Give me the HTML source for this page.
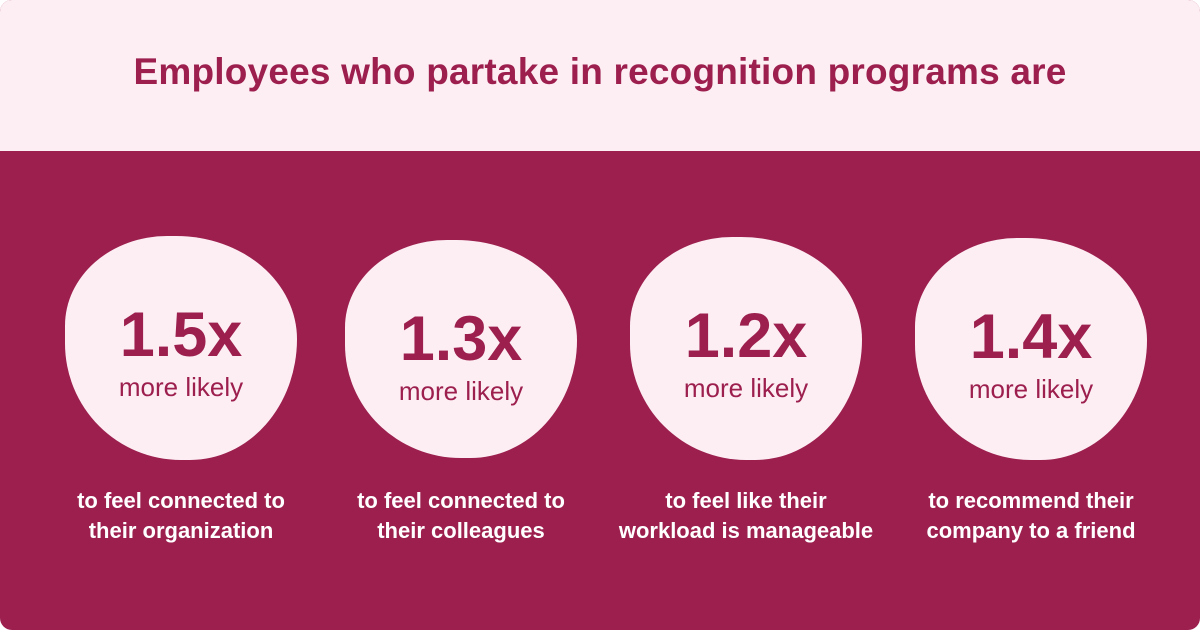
<!DOCTYPE html>
<html><head><style>
body{margin:0;width:1200px;height:630px;overflow:hidden;font-family:"Liberation Sans",sans-serif}
.wrap{position:relative;width:1200px;height:630px;background:#9c1f4e;border-radius:12px;overflow:hidden}
.top{position:absolute;left:0;top:0;width:1200px;height:151px;background:#fdeef3;text-align:center}
.top h1{margin:0;padding-top:51px;font-size:37px;color:#9c1f4e;font-weight:bold;letter-spacing:0.2px}
.blob{position:absolute;top:236px;width:232px;height:224px;background:#fdeef3;border-radius:44% 52% 46% 50% / 40% 46% 54% 52%;text-align:center;color:#9c1f4e}
.blob .n{position:absolute;left:0;right:0;top:68px;font-size:63px;font-weight:bold;line-height:1}
.blob .m{position:absolute;left:0;right:0;top:138px;font-size:26px;line-height:1}
.cap{position:absolute;top:486px;width:320px;text-align:center;color:#fff;font-weight:bold;font-size:22px;line-height:30px}
</style></head><body><div class="wrap">
<div class="top"><h1>Employees who partake in recognition programs are</h1></div>
<div class="blob" style="left:65px"><div class="n">1.5x</div><div class="m">more likely</div></div>
<div class="blob" style="left:345px;top:240px;height:218px"><div class="n">1.3x</div><div class="m">more likely</div></div>
<div class="blob" style="left:630px;top:237px;height:223px"><div class="n">1.2x</div><div class="m">more likely</div></div>
<div class="blob" style="left:915px;top:238px;height:222px"><div class="n">1.4x</div><div class="m">more likely</div></div>
<div class="cap" style="left:21px">to feel connected to<br>their organization</div>
<div class="cap" style="left:301px">to feel connected to<br>their colleagues</div>
<div class="cap" style="left:586px">to feel like their<br>workload is manageable</div>
<div class="cap" style="left:871px">to recommend their<br>company to a friend</div>
</div></body></html>
